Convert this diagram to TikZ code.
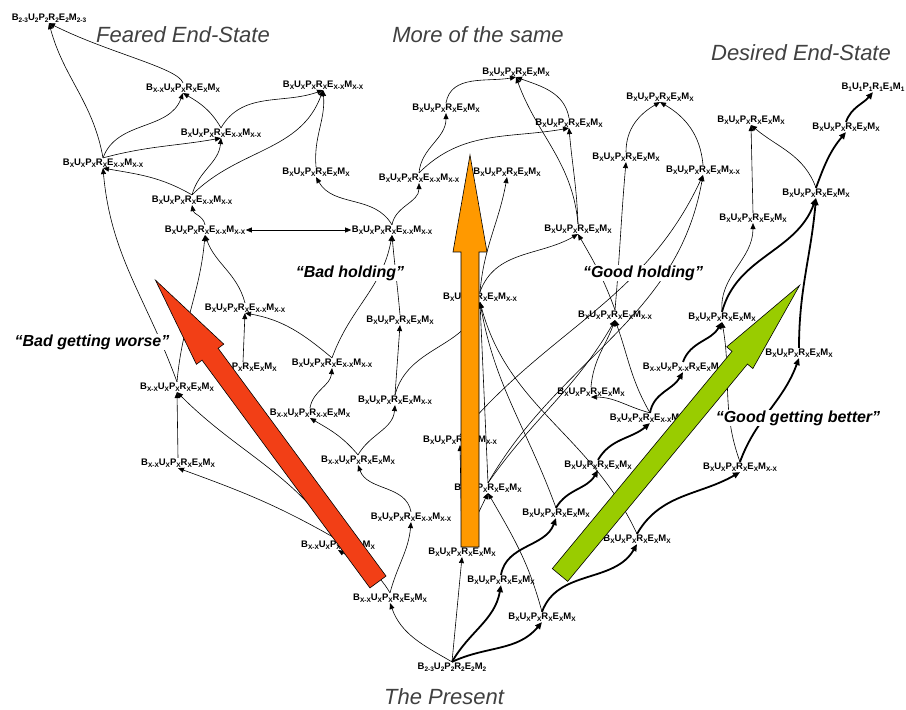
\documentclass[tikz,border=0pt]{standalone}
\usepackage{fontspec}
\setmainfont{Liberation Sans}
\usetikzlibrary{arrows.meta}
\newcommand{\sx}[1]{\raisebox{-0.45ex}{\fontsize{6.5}{7}\selectfont #1}}
\newcommand{\sv}[6]{B\sx{#1}U\sx{#2}P\sx{#3}R\sx{#4}E\sx{#5}M\sx{#6}}
\newcommand{\xx}{X-X}
\definecolor{badred}{RGB}{242,63,22}
\definecolor{sameorange}{RGB}{255,153,0}
\definecolor{goodgreen}{RGB}{153,204,0}
\begin{document}
\begin{tikzpicture}[x=1pt, y=1pt,
    stnode/.style={inner sep=0.5pt, font=\fontsize{9.5}{10}\selectfont\bfseries},
    thinlink/.style={line width=0.6pt, -{Triangle[length=6pt,width=5pt]}},
    thicklink/.style={line width=1.8pt, -{Triangle[length=7pt,width=6pt]}},
    titletext/.style={font=\fontsize{22}{24}\selectfont\itshape, text=black!75},
    phaselabel/.style={font=\fontsize{16}{18}\selectfont\bfseries\itshape, fill=white, inner sep=1pt},
    bigarrow/.style={draw=black, line width=0.6pt, line join=miter}]
  \useasboundingbox (0,0) rectangle (906,710);

  \node[titletext] (tfeared) at (183,675) {Feared End-State};
  \node[titletext] (tsame) at (478,675) {More of the same};
  \node[titletext] (tdesired) at (801,657) {Desired End-State};
  \node[titletext] (tpresent) at (444,13) {The Present};

  \node[stnode] (feared) at (49,692) {\sv{2-3}{2}{2}{2}{2}{2-3}};
  \node[stnode] (n2) at (183,622) {\sv{\xx}{X}{X}{X}{X}{X}};
  \node[stnode] (n3) at (221,577) {\sv{X}{X}{X}{X}{\xx}{\xx}};
  \node[stnode] (n4) at (103,547) {\sv{X}{X}{X}{X}{\xx}{\xx}};
  \node[stnode] (n5) at (192,510) {\sv{X}{X}{X}{X}{\xx}{\xx}};
  \node[stnode] (n6) at (205,480) {\sv{X}{X}{X}{X}{\xx}{\xx}};
  \node[stnode] (n7) at (392,480) {\sv{X}{X}{X}{X}{\xx}{\xx}};
  \node[stnode] (n8) at (323,625) {\sv{X}{X}{X}{X}{\xx}{\xx}};
  \node[stnode] (n9) at (316,538) {\sv{X}{X}{X}{X}{X}{X}};
  \node[stnode] (n10) at (516,638) {\sv{X}{X}{X}{X}{X}{X}};
  \node[stnode] (n11) at (446,602) {\sv{X}{X}{X}{X}{X}{X}};
  \node[stnode] (n12) at (569,587) {\sv{X}{X}{X}{X}{X}{X}};
  \node[stnode] (n13) at (419,532) {\sv{X}{X}{X}{X}{\xx}{\xx}};
  \node[stnode] (n14) at (507,538) {\sv{X}{X}{X}{X}{X}{X}};
  \node[stnode] (n15) at (578,481) {\sv{X}{X}{X}{X}{X}{X}};
  \node[stnode] (n16) at (873,623) {\sv{1}{1}{1}{1}{1}{1}};
  \node[stnode] (n17) at (660,613) {\sv{X}{X}{X}{X}{X}{X}};
  \node[stnode] (n18) at (751,590) {\sv{X}{X}{X}{X}{X}{X}};
  \node[stnode] (n19) at (846,583) {\sv{X}{X}{X}{X}{X}{X}};
  \node[stnode] (n20) at (626,553) {\sv{X}{X}{X}{X}{X}{X}};
  \node[stnode] (n21) at (703,540) {\sv{X}{X}{X}{X}{X}{\xx}};
  \node[stnode] (n22) at (816,517) {\sv{X}{X}{X}{X}{X}{X}};
  \node[stnode] (n23) at (753,492) {\sv{X}{X}{X}{X}{X}{X}};
  \node[stnode] (n24) at (177,323) {\sv{\xx}{X}{X}{X}{X}{X}};
  \node[stnode] (n25) at (178,247) {\sv{\xx}{X}{X}{X}{X}{X}};
  \node[stnode] (n26) at (245,402) {\sv{X}{X}{X}{X}{\xx}{\xx}};
  \node[stnode] (n27) at (243,343) {\sv{X}{X}{X}{X}{X}{X}};
  \node[stnode] (n28) at (310,297) {\sv{\xx}{X}{X}{\xx}{X}{X}};
  \node[stnode] (n29) at (332,347) {\sv{X}{X}{X}{X}{\xx}{\xx}};
  \node[stnode] (n30) at (400,390) {\sv{X}{X}{X}{X}{X}{X}};
  \node[stnode] (n31) at (358,250) {\sv{\xx}{X}{X}{X}{X}{X}};
  \node[stnode] (n33) at (338,165) {\sv{\xx}{X}{X}{X}{X}{X}};
  \node[stnode] (n34) at (480,413) {\sv{X}{X}{X}{X}{X}{\xx}};
  \node[stnode] (n35) at (395,310) {\sv{X}{X}{X}{X}{X}{\xx}};
  \node[stnode] (n36) at (460,270) {\sv{X}{X}{X}{X}{X}{\xx}};
  \node[stnode] (n37) at (615,395) {\sv{X}{X}{X}{X}{X}{\xx}};
  \node[stnode] (n38) at (591,318) {\sv{X}{X}{X}{X}{X}{X}};
  \node[stnode] (n40) at (598,245) {\sv{X}{X}{X}{X}{X}{X}};
  \node[stnode] (n41) at (488,222) {\sv{X}{X}{X}{X}{X}{X}};
  \node[stnode] (n42) at (722,393) {\sv{X}{X}{X}{X}{X}{X}};
  \node[stnode] (n43) at (683,343) {\sv{\xx}{X}{\xx}{X}{X}{X}};
  \node[stnode] (n44) at (799,357) {\sv{X}{X}{X}{X}{X}{X}};
  \node[stnode] (n45) at (650,292) {\sv{X}{X}{X}{X}{\xx}{\xx}};
  \node[stnode] (n46) at (740,243) {\sv{X}{X}{X}{X}{X}{\xx}};
  \node[stnode] (n47) at (411,193) {\sv{X}{X}{X}{X}{\xx}{\xx}};
  \node[stnode] (n48) at (462,158) {\sv{X}{X}{X}{X}{X}{X}};
  \node[stnode] (n49) at (556,197) {\sv{X}{X}{X}{X}{X}{X}};
  \node[stnode] (n50) at (501,130) {\sv{X}{X}{X}{X}{X}{X}};
  \node[stnode] (n51) at (390,112) {\sv{\xx}{X}{X}{X}{X}{X}};
  \node[stnode] (n52) at (542,93) {\sv{X}{X}{X}{X}{X}{X}};
  \node[stnode] (n53) at (637,171) {\sv{X}{X}{X}{X}{X}{X}};
  \node[stnode] (present) at (452,43) {\sv{2-3}{2}{2}{2}{2}{2}};

  \draw[thinlink] (n4.north) to[out=100,in=-75] (feared.south);
  \draw[thinlink] (n2.north) .. controls +(-5,15) and +(60,-30) .. (feared.south);
  \draw[thinlink] (n4.north) to[out=70,in=-110] (n2.south);
  \draw[thinlink] (n4.north) to[out=15,in=190] (n3.south);
  \draw[thinlink] (n3.north) to[out=120,in=-30] (n2.south);
  \draw[thinlink] (n3.north) to[out=60,in=200] (n8.south);
  \draw[thinlink] (n5.north) to[out=150,in=-10] (n4.south);
  \draw[thinlink] (n5.north) to[out=75,in=-95] (n3.south);
  \draw[thinlink] (n5.north) to[out=45,in=-110] (n8.south);
  \draw[thinlink] (n6.north) to[out=100,in=-80] (n5.south);
  \draw[line width=0.6pt, {Triangle[length=6pt,width=5pt]}-{Triangle[length=6pt,width=5pt]}] (n6.east) -- (n7.west);
  \draw[thinlink] (n26.north) to[out=105,in=-70] (n6.south);
  \draw[thinlink] (n24.north) to[out=85,in=-95] (n6.south);
  \draw[thinlink] (n24.north) to[out=110,in=-85] (n4.south);
  \draw[thinlink] (n27.north) -- (n26.south);
  \draw[thinlink] (n29.north) to[out=140,in=-10] (n26.south);
  \draw[thinlink] (n29.north) to[out=70,in=-100] (n7.south);
  \draw[thinlink] (n30.north) to[out=95,in=-85] (n7.south);
  \draw[thinlink] (n28.north) to[out=80,in=-95] (n29.south);
  \draw[thinlink] (n31.north) to[out=130,in=-30] (n28.south);
  \draw[thinlink] (n31.north) to[out=60,in=-95] (n35.south);
  \draw[thinlink] (n35.north) -- (n30.south);
  \draw[thinlink] (n35.north) to[out=75,in=-110] (n34.south);
  \draw[thinlink] (n7.north) to[out=80,in=-90] (n13.south);
  \draw[thinlink] (n7.north) to[out=120,in=-60] (n9.south);
  \draw[thinlink] (n9.north) to[out=95,in=-85] (n8.south);
  \draw[thinlink] (n13.north) to[out=85,in=-90] (n11.south);
  \draw[thinlink] (n13.north) to[out=45,in=190] (n12.south);
  \draw[thinlink] (n11.north) to[out=80,in=190] (n10.south);
  \draw[thinlink] (n12.north) to[out=100,in=-20] (n10.south);
  \draw[thinlink] (n15.north) to[out=95,in=-70] (n10.south);
  \draw[thinlink] (n15.north) to[out=92,in=-85] (n12.south);
  \draw[thinlink] (n34.north) to[out=85,in=-100] (n14.south);
  \draw[thinlink] (n34.north) to[out=70,in=210] (n15.south);
  \draw[thinlink] (n41.north) -- (n34.south);
  \draw[thinlink] (n49.north) to[out=110,in=-80] (n34.south);
  \draw[thinlink] (n53.north) to[out=115,in=-75] (n34.south);
  \draw[thinlink] (n37.north) to[out=110,in=-60] (n15.south);
  \draw[thinlink] (n37.north) to[out=85,in=-95] (n20.south);
  \draw[thinlink] (n36.north) to[out=50,in=-115] (n21.south);
  \draw[thinlink] (n41.north) to[out=60,in=-100] (n21.south);
  \draw[thinlink] (n20.north) to[out=90,in=-150] (n17.south);
  \draw[thinlink] (n21.north) to[out=95,in=-30] (n17.south);
  \draw[thinlink] (n23.north) -- (n18.south);
  \draw[thinlink] (n22.north) to[out=110,in=-40] (n18.south);
  \draw[thicklink] (n22.north) to[out=70,in=-130] (n19.south);
  \draw[thicklink] (n19.north) to[out=70,in=-130] (n16.south);
  \draw[thicklink] (n44.north) to[out=90,in=-95] (n22.south);
  \draw[thicklink] (n42.north) to[out=75,in=-110] (n22.south);
  \draw[thinlink] (n42.north) to[out=95,in=-90] (n23.south);
  \draw[thicklink] (n43.north) to[out=70,in=-120] (n42.south);
  \draw[thicklink] (n45.north) to[out=80,in=-120] (n43.south);
  \draw[thinlink] (n45.north) to[out=120,in=-70] (n37.south);
  \draw[thinlink] (n45.north) to[out=165,in=0] (n38.south);
  \draw[thinlink] (n38.north) to[out=85,in=-110] (n37.south);
  \draw[thinlink] (n41.north) to[out=55,in=-120] (n37.south);
  \draw[thicklink] (n40.north) to[out=60,in=-140] (n45.south);
  \draw[thicklink] (n49.north) to[out=60,in=-120] (n40.south);
  \draw[thicklink] (n50.north) to[out=80,in=-110] (n49.south);
  \draw[thicklink] (present.north) to[out=60,in=-100] (n50.south);
  \draw[thicklink] (present.north) to[out=25,in=-130] (n52.south);
  \draw[thinlink] (present.north) -- (n48.south);
  \draw[thinlink] (present.north) to[out=150,in=-70] (n51.south);
  \draw[thinlink] (n51.north) to[out=120,in=-30] (n33.south);
  \draw[thinlink] (n51.north) to[out=75,in=-95] (n47.south);
  \draw[thinlink] (n47.north) to[out=100,in=-70] (n31.south);
  \draw[thicklink] (n52.north) to[out=70,in=-120] (n53.south);
  \draw[thinlink] (n52.north) to[out=105,in=-60] (n41.south);
  \draw[thicklink] (n53.north) to[out=60,in=-150] (n46.south);
  \draw[thicklink] (n46.north) to[out=70,in=-110] (n44.south);
  \draw[thinlink] (n46.north) to[out=110,in=-80] (n42.south);
  \draw[thinlink] (n48.north) -- (n41.south);
  \draw[thinlink] (n48.north) -- (n36.south);
  \draw[thinlink] (n33.north) to[out=125,in=-45] (n24.south);
  \draw[thinlink] (n33.north) to[out=150,in=-20] (n25.south);
  \draw[thinlink] (n25.north) -- (n24.south);

  \begin{scope}[shift={(378,128)}, rotate=126.4]
    \draw[bigarrow, fill=badred] (0,-10) -- (283,-10) -- (283,-17) -- (375,0)
      -- (283,17) -- (283,10) -- (0,10) -- cycle;
  \end{scope}
  \begin{scope}[shift={(470,163)}, rotate=90]
    \draw[bigarrow, fill=sameorange] (0,-9) -- (295,-9) -- (295,-17) -- (392,0)
      -- (295,17) -- (295,9) -- (0,9) -- cycle;
  \end{scope}
  \begin{scope}[shift={(560,135)}, rotate=50.4]
    \draw[bigarrow, fill=goodgreen] (0,-10) -- (282,-10) -- (282,-17) -- (376,0)
      -- (282,17) -- (282,10) -- (0,10) -- cycle;
  \end{scope}

  \node[phaselabel] (worse) at (92,368) {“Bad getting worse”};
  \node[phaselabel] (badhold) at (350,437) {“Bad holding”};
  \node[phaselabel] (goodhold) at (643,437) {“Good holding”};
  \node[phaselabel] (better) at (798,292) {“Good getting better”};
\end{tikzpicture}
\end{document}
